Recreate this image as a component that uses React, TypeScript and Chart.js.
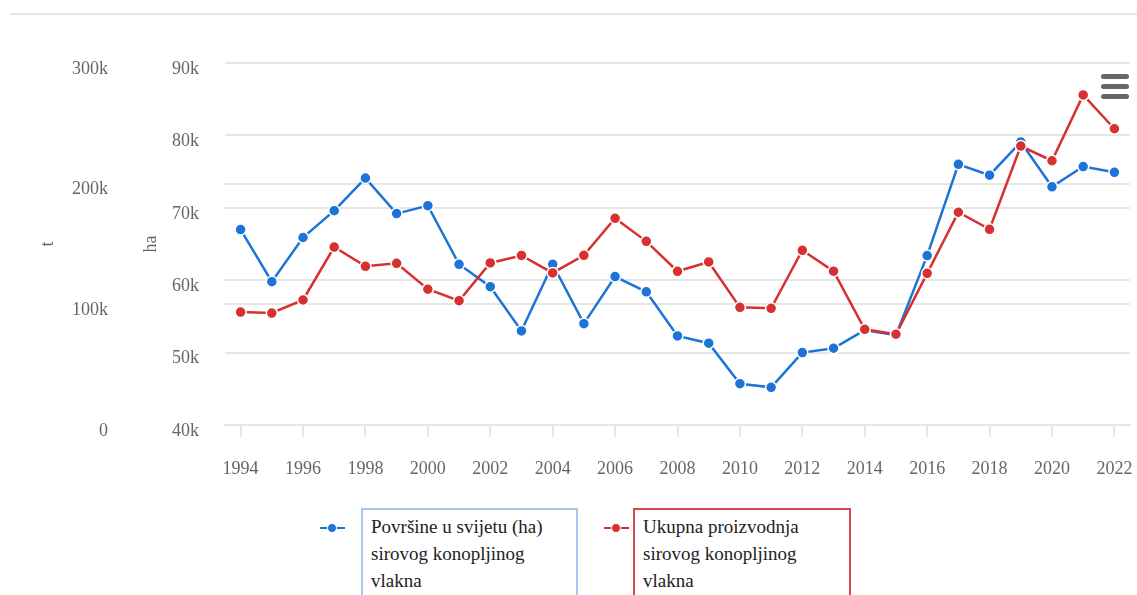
import React, { useEffect, useRef } from "react";
import { Chart, registerables } from "chart.js";

Chart.register(...registerables);

const years = [
  "1994", "1995", "1996", "1997", "1998", "1999", "2000", "2001", "2002", "2003",
  "2004", "2005", "2006", "2007", "2008", "2009", "2010", "2011", "2012", "2013",
  "2014", "2015", "2016", "2017", "2018", "2019", "2020", "2021", "2022",
];

// Površine u svijetu (ha)
const areaHa = [
  67000, 59800, 65900, 69600, 74100, 69200, 70300, 62200, 59100, 53000,
  62200, 54000, 60500, 58400, 52300, 51300, 45700, 45200, 50000, 50600,
  53100, 52400, 63400, 76000, 74500, 79100, 72900, 75700, 74900,
];

// Ukupna proizvodnja (t)
const productionT = [
  93600, 92800, 103600, 147500, 131500, 134000, 112500, 103000, 134300, 140500,
  126000, 140600, 171300, 152200, 127400, 135100, 97500, 96700, 144800, 127500,
  79300, 75200, 125700, 176300, 162200, 231200, 219000, 273500, 245500,
];

const haAxis = { min: 40000, max: 90000, step: 10000, title: "ha" };
const tAxis = { min: 0, max: 300000, step: 100000, title: "t" };

const legendLabels = [
  "Površine u svijetu (ha) sirovog konopljinog vlakna",
  "Ukupna proizvodnja sirovog konopljinog vlakna",
];

const BLUE = "#1b74d6";
const RED = "#d63031";
const GRID = "#e6e6e6";
const TEXT = "#666666";
const FONT = "'Liberation Serif', 'Times New Roman', serif";

const kFmt = (v: number) => (v === 0 ? "0" : `${Math.round(v / 1000)}k`);

export default function App() {
  const ref = useRef<HTMLCanvasElement | null>(null);

  useEffect(() => {
    if (!ref.current) return;
    const chart = new Chart(ref.current, {
      type: "line",
      data: {
        labels: years,
        datasets: [
          {
            label: legendLabels[0],
            data: areaHa,
            yAxisID: "ha",
            borderColor: BLUE,
            backgroundColor: BLUE,
            borderWidth: 2.5,
            pointRadius: 5.5,
            pointBorderColor: "#ffffff",
            pointBorderWidth: 1.5,
            pointBackgroundColor: BLUE,
            tension: 0,
            order: 1,
          },
          {
            label: legendLabels[1],
            data: productionT,
            yAxisID: "t",
            borderColor: RED,
            backgroundColor: RED,
            borderWidth: 2.5,
            pointRadius: 5.5,
            pointBorderColor: "#ffffff",
            pointBorderWidth: 1.5,
            pointBackgroundColor: RED,
            tension: 0,
            order: 0,
          },
        ],
      },
      options: {
        responsive: false,
        animation: false,
        layout: { padding: { left: 0, top: 63, right: 0, bottom: 0 } },
        plugins: {
          legend: { display: false },
          tooltip: { enabled: false },
          title: { display: false },
        },
        scales: {
          x: {
            type: "category",
            offset: true,
            grid: {
              offset: false,
              drawOnChartArea: false,
              drawTicks: true,
              tickLength: 12,
              lineWidth: 2,
              tickColor: (ctx: any) => (ctx.index % 2 === 0 ? GRID : "rgba(0,0,0,0)"),
            },
            border: { display: true, color: GRID, width: 2 },
            ticks: {
              autoSkip: false,
              maxRotation: 0,
              minRotation: 0,
              padding: 21,
              color: TEXT,
              font: { family: FONT, size: 18 },
              callback: (_v: any, i: number) => (i % 2 === 0 ? years[i] : ""),
            },
            afterFit: (s: any) => {
              s.height = 60;
              s.paddingLeft = 0;
              s.paddingRight = 0;
            },
          },
          t: {
            type: "linear",
            position: "left",
            weight: 1,
            min: tAxis.min,
            max: tAxis.max,
            grid: { color: GRID, lineWidth: 2, drawTicks: false },
            border: { display: false },
            ticks: {
              stepSize: tAxis.step,
              padding: 12,
              labelOffset: 6,
              color: TEXT,
              font: { family: FONT, size: 18 },
              callback: (v: any) => kFmt(Number(v)),
            },
            title: {
              display: true,
              text: tAxis.title,
              color: TEXT,
              font: { family: FONT, size: 18 },
              padding: { top: 37, bottom: 0 },
            },
            afterFit: (s: any) => {
              s.width = 120;
            },
          },
          ha: {
            type: "linear",
            position: "left",
            weight: 0,
            min: haAxis.min,
            max: haAxis.max,
            grid: { color: GRID, lineWidth: 2, drawTicks: false },
            border: { display: false },
            ticks: {
              stepSize: haAxis.step,
              padding: 26,
              labelOffset: 6,
              color: TEXT,
              font: { family: FONT, size: 18 },
              callback: (v: any) => kFmt(Number(v)),
            },
            title: {
              display: true,
              text: haAxis.title,
              color: TEXT,
              font: { family: FONT, size: 18 },
              padding: { top: 20, bottom: 0 },
            },
            afterFit: (s: any) => {
              s.width = 105;
            },
          },
        },
      },
    });
    return () => chart.destroy();
  }, []);

  const legendText = { fontFamily: FONT, fontSize: 19, lineHeight: "27px", color: "#222" } as const;

  return (
    <div
      style={{
        position: "fixed",
        left: 0,
        top: 0,
        width: 1137,
        height: 595,
        overflow: "hidden",
        background: "#ffffff",
      }}
    >
      <div style={{ position: "absolute", left: 10, top: 13, width: 1127, height: 2, background: GRID }} />
      <canvas
        ref={ref}
        width={1137}
        height={485}
        style={{ position: "absolute", left: 0, top: 0, width: 1137, height: 485 }}
      />
      {/* export menu button */}
      <div style={{ position: "absolute", left: 1091, top: 66, width: 46, height: 36, background: "#fff" }}>
        {[0, 1, 2].map((i) => (
          <div
            key={i}
            style={{
              position: "absolute",
              left: 10,
              top: 8 + i * 10,
              width: 28,
              height: 4.5,
              borderRadius: 2.5,
              background: "#666",
            }}
          />
        ))}
      </div>
      {/* legend */}
      {[
        { color: BLUE, border: "#a8c8ee", sx: 320, bx: 361, bw: 217, lines: ["Površine u svijetu (ha)", "sirovog konopljinog", "vlakna"] },
        { color: RED, border: "#d9474a", sx: 604, bx: 633, bw: 218, lines: ["Ukupna proizvodnja", "sirovog konopljinog", "vlakna"] },
      ].map((it, k) => (
        <React.Fragment key={k}>
          <div style={{ position: "absolute", left: it.sx, top: 527, width: 25, height: 2, background: it.color }} />
          <div
            style={{
              position: "absolute",
              left: it.sx + 12.5 - 5.5,
              top: 528 - 5.5,
              width: 8,
              height: 8,
              borderRadius: "50%",
              background: it.color,
              border: "1.5px solid #fff",
            }}
          />
          <div
            style={{
              position: "absolute",
              left: it.bx,
              top: 508,
              width: it.bw,
              height: 120,
              boxSizing: "border-box",
              border: `2px solid ${it.border}`,
              padding: "3px 0 0 8px",
              ...legendText,
            }}
          >
            {it.lines.map((l, j) => (
              <div key={j} style={{ whiteSpace: "nowrap" }}>{l}</div>
            ))}
          </div>
        </React.Fragment>
      ))}
    </div>
  );
}
